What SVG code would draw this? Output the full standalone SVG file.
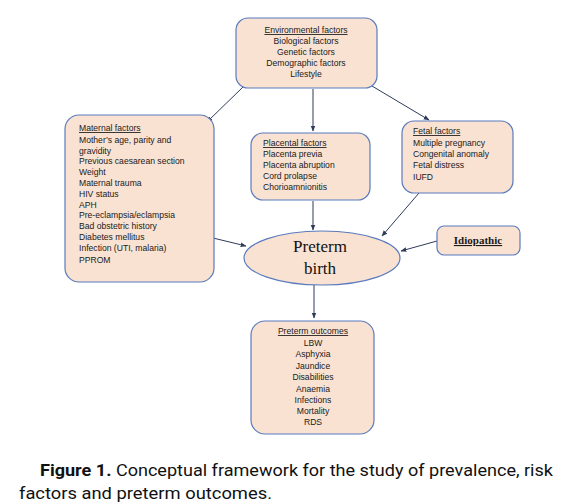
<svg xmlns="http://www.w3.org/2000/svg" width="562" height="504" viewBox="0 0 562 504">
<defs>
<marker id="ah" viewBox="0 0 10 10" refX="9" refY="5" markerWidth="6" markerHeight="6" orient="auto" markerUnits="userSpaceOnUse">
<path d="M0,1 L10,5 L0,9 z" fill="#2f3b5a"/>
</marker>
<style>
.box{fill:#f9e2d2;stroke:#5a7bbd;stroke-width:1.2}
.t{font-family:"Liberation Sans",Arial,sans-serif;font-size:8.6px;fill:#1a1a1a}
.c{text-anchor:middle}
.u{text-decoration:underline}
.con{stroke:#2f3b5a;stroke-width:1;fill:none;marker-end:url(#ah)}
.serif{font-family:"Liberation Serif","Times New Roman",serif;font-size:17px;fill:#111;text-anchor:middle}
.cap{font-family:Roboto,"Liberation Sans",sans-serif;font-size:17px;fill:#111}
</style>
</defs>
<rect width="562" height="504" fill="#fff"/>
<g id="connectors">
<line class="con" x1="243" y1="87" x2="207" y2="122"/>
<line class="con" x1="372" y1="86" x2="429" y2="120"/>
<line class="con" x1="313" y1="89" x2="313" y2="131"/>
<line class="con" x1="313" y1="201" x2="313" y2="230"/>
<line class="con" x1="419" y1="193" x2="382" y2="236"/>
<line class="con" x1="213" y1="238" x2="246" y2="246"/>
<line class="con" x1="437" y1="241" x2="401" y2="251"/>
<line class="con" x1="314" y1="285" x2="314" y2="318"/>
</g>
<g id="environmental">
<rect class="box" x="236" y="18" width="141" height="70" rx="12"/>
<text class="t c u" x="306" y="33">Environmental factors</text>
<text class="t c" x="306" y="44">Biological factors</text>
<text class="t c" x="306" y="55">Genetic factors</text>
<text class="t c" x="306" y="66">Demographic factors</text>
<text class="t c" x="306" y="77">Lifestyle</text>
</g>
<g id="maternal">
<rect class="box" x="65" y="115" width="149" height="167" rx="14"/>
<text class="t u" x="79" y="131">Maternal factors</text>
<text class="t" x="79" y="143">Mother’s age, parity and</text>
<text class="t" x="79" y="154">gravidity</text>
<text class="t" x="79" y="164">Previous caesarean section</text>
<text class="t" x="79" y="175">Weight</text>
<text class="t" x="79" y="186">Maternal trauma</text>
<text class="t" x="79" y="197">HIV status</text>
<text class="t" x="79" y="208">APH</text>
<text class="t" x="79" y="218">Pre-eclampsia/eclampsia</text>
<text class="t" x="79" y="229">Bad obstetric history</text>
<text class="t" x="79" y="240">Diabetes mellitus</text>
<text class="t" x="79" y="251">Infection (UTI, malaria)</text>
<text class="t" x="79" y="263">PPROM</text>
</g>
<g id="placental">
<rect class="box" x="251" y="133" width="119" height="67" rx="12"/>
<text class="t u" x="263" y="146">Placental factors</text>
<text class="t" x="263" y="157">Placenta previa</text>
<text class="t" x="263" y="168">Placenta abruption</text>
<text class="t" x="263" y="179">Cord prolapse</text>
<text class="t" x="263" y="190">Chorioamnionitis</text>
</g>
<g id="fetal">
<rect class="box" x="402" y="121" width="111" height="72" rx="12"/>
<text class="t u" x="413" y="134">Fetal factors</text>
<text class="t" x="413" y="146">Multiple pregnancy</text>
<text class="t" x="413" y="157">Congenital anomaly</text>
<text class="t" x="413" y="168">Fetal distress</text>
<text class="t" x="413" y="180">IUFD</text>
</g>
<g id="preterm-birth">
<ellipse class="box" cx="322" cy="258" rx="78" ry="27"/>
<text class="serif" x="320" y="252">Preterm</text>
<text class="serif" x="320" y="274">birth</text>
</g>
<g id="idiopathic">
<rect class="box" x="437" y="226" width="83" height="29" rx="7"/>
<text class="t c u" x="478" y="244" style="font-family:'Liberation Serif',serif;font-size:11px;font-weight:bold">Idiopathic</text>
</g>
<g id="outcomes">
<rect class="box" x="251" y="321" width="123" height="113" rx="14"/>
<text class="t c u" x="313" y="334">Preterm outcomes</text>
<text class="t c" x="313" y="346">LBW</text>
<text class="t c" x="313" y="357">Asphyxia</text>
<text class="t c" x="313" y="369">Jaundice</text>
<text class="t c" x="313" y="380">Disabilities</text>
<text class="t c" x="313" y="392">Anaemia</text>
<text class="t c" x="313" y="403">Infections</text>
<text class="t c" x="313" y="414">Mortality</text>
<text class="t c" x="313" y="425">RDS</text>
</g>
<g id="caption">
<text class="cap" x="40" y="476" textLength="513" lengthAdjust="spacingAndGlyphs"><tspan font-weight="bold">Figure 1.</tspan> Conceptual framework for the study of prevalence, risk</text>
<text class="cap" x="19" y="499" textLength="253" lengthAdjust="spacingAndGlyphs">factors and preterm outcomes.</text>
</g>
</svg>
